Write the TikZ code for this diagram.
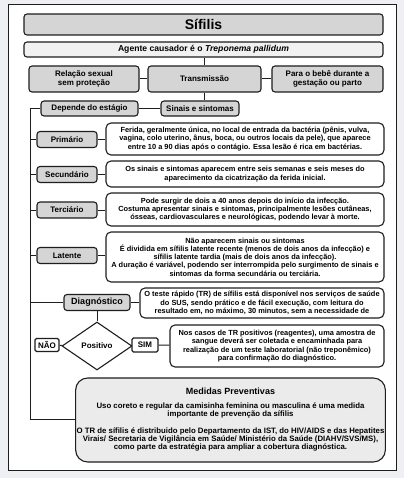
\documentclass[tikz,border=0pt]{standalone}
\usepackage{fontspec}
\setmainfont{Liberation Sans}
\usepackage{tikz}
\usetikzlibrary{shapes.geometric}
\definecolor{fundo}{HTML}{EEF0F3}
\definecolor{cinza}{HTML}{D5D5D5}
\definecolor{cinzaclaro}{HTML}{F1F1F1}
\definecolor{cinzamedida}{HTML}{EBEBEB}
\definecolor{traco}{HTML}{1E1E1E}
\tikzstyle{caixa} = [draw=traco, line width=1.1pt, rounded corners=3pt, fill=cinza, inner sep=1pt, align=center, font=\fontsize{8}{9.5}\selectfont\bfseries]
\tikzstyle{texto} = [caixa, fill=white, rounded corners=5pt, font=\fontsize{7.4}{8.3}\selectfont\bfseries]
\tikzstyle{linha} = [draw=traco, line width=1pt]
\tikzset{losango/.style={caixa, shape=diamond, fill=white, rounded corners=0pt, minimum width=70pt, minimum height=48pt, inner sep=0pt}}

\begin{document}
\begin{tikzpicture}[x=1pt,y=-1pt]
\useasboundingbox (0,0) rectangle (404,478);
\fill[fundo] (0,0) rectangle (404,478);
\draw[fill=white, draw=traco, line width=1pt] (8,5) rectangle (396,470);

% topo
\node[caixa, minimum width=359pt, minimum height=21pt, font=\fontsize{14}{16}\selectfont\bfseries] (titulo) at (203.5,24.5) {Sífilis};
\node[caixa, fill=cinzaclaro, minimum width=359pt, minimum height=15pt, font=\fontsize{8.6}{10}\selectfont\bfseries] (agente) at (203.5,49.5) {Agente causador é o \textit{Treponema pallidum}};

% transmissao
\node[caixa, minimum width=110pt, minimum height=26pt] (relacao) at (84,79) {Relação sexual\\sem proteção};
\node[caixa, minimum width=113pt, minimum height=26pt] (transm) at (204.5,79) {Transmissão};
\node[caixa, minimum width=111pt, minimum height=26pt] (bebe) at (327.5,79) {Para o bebê durante a\\gestação ou parto};
\node[caixa, minimum width=78pt, minimum height=15pt] (sinais) at (200,108.5) {Sinais e sintomas};
\node[caixa, minimum width=97pt, minimum height=15pt] (depende) at (89.5,108.5) {Depende do estágio};

% estagios
\node[caixa, minimum width=60pt, minimum height=16pt] (primario) at (67,139.5) {Primário};
\node[texto, minimum width=278pt, minimum height=32pt] (primdesc) at (245,139) {Ferida, geralmente única, no local de entrada da bactéria (pênis, vulva,\\vagina, colo uterino, ânus, boca, ou outros locais da pele), que aparece\\entre 10 a 90 dias após o contágio. Essa lesão é rica em bactérias.};
\node[caixa, minimum width=60pt, minimum height=16pt] (secund) at (67,174.5) {Secundário};
\node[texto, minimum width=278pt, minimum height=26pt] (secdesc) at (245,174) {Os sinais e sintomas aparecem entre seis semanas e seis meses do\\aparecimento da cicatrização da ferida inicial.};
\node[caixa, minimum width=60pt, minimum height=16pt] (terc) at (67,210) {Terciário};
\node[texto, minimum width=278pt, minimum height=33pt] (tercdesc) at (245,209.5) {Pode surgir de dois a 40 anos depois do início da infecção.\\Costuma apresentar sinais e sintomas, principalmente lesões cutâneas,\\ósseas, cardiovasculares e neurológicas, podendo levar à morte.};
\node[caixa, minimum width=60pt, minimum height=16pt] (latente) at (67,255.5) {Latente};
\node[texto, minimum width=278pt, minimum height=50pt] (latdesc) at (245,257) {Não aparecem sinais ou sintomas\\É dividida em sífilis latente recente (menos de dois anos da infecção) e\\sífilis latente tardia (mais de dois anos da infecção).\\A duração é variável, podendo ser interrompida pelo surgimento de sinais e\\sintomas da forma secundária ou terciária.};

% diagnostico
\node[caixa, minimum width=66pt, minimum height=16pt, font=\fontsize{9}{10}\selectfont\bfseries] (diag) at (97,302.5) {Diagnóstico};
\node[texto, minimum width=244pt, minimum height=30pt] (diagdesc) at (262,303) {O teste rápido (TR) de sífilis está disponível nos serviços de saúde\\do SUS, sendo prático e de fácil execução, com leitura do\\resultado em, no máximo, 30 minutos, sem a necessidade de};
\node[losango] (positivo) at (97,346) {Positivo};
\node[caixa, fill=white, rounded corners=1.5pt, minimum width=24pt, minimum height=13pt] (nao) at (47,345) {NÃO};
\node[caixa, fill=white, rounded corners=1.5pt, minimum width=26pt, minimum height=14pt] (sim) at (145,345) {SIM};
\node[texto, minimum width=214pt, minimum height=42pt] (simdesc) at (277,346) {Nos casos de TR positivos (reagentes), uma amostra de\\sangue deverá ser coletada e encaminhada para\\realização de um teste laboratorial (não treponêmico)\\para confirmação do diagnóstico.};

% medidas
\node[texto, fill=cinzamedida, rounded corners=12pt, minimum width=305pt, minimum height=84pt, font=\fontsize{7.8}{8}\selectfont\bfseries] (medidas) at (230.5,420) {{\fontsize{9}{10}\selectfont Medidas Preventivas}\\[6pt]Uso coreto e regular da camisinha feminina ou masculina é uma medida\\importante de prevenção da sífilis\\[9pt]O TR de sífilis é distribuido pelo Departamento da IST, do HIV/AIDS e das Hepatites\\Virais/ Secretaria de Vigilância em Saúde/ Ministério da Saúde (DIAHV/SVS/MS),\\como parte da estratégia para ampliar a cobertura diagnóstica.};

% ligacoes
\coordinate (barraT) at (30,108.5);
\coordinate (barraB) at (30,419);
\draw[linha] (transm.north |- agente.south) -- (transm.north);
\draw[linha] (relacao) -- (transm);
\draw[linha] (transm) -- (bebe);
\draw[linha] (transm.south) -- (transm.south |- sinais.north);
\draw[linha] (depende) -- (sinais);
\draw[linha] (depende.west) -- (barraT) -- (barraB) -- (barraB -| medidas.west);
\foreach \e/\d in {primario/primdesc, secund/secdesc, terc/tercdesc, latente/latdesc, diag/diagdesc} {
  \draw[linha] (\e.west -| barraT) -- (\e.west);
  \draw[linha] (\e.east) -- (\e.east -| \d.west);
}
\draw[linha] (diag) -- (positivo);
\draw[linha] (positivo) -- (nao);
\draw[linha] (positivo) -- (sim);
\draw[linha] (sim) -- (simdesc);
\end{tikzpicture}
\end{document}
